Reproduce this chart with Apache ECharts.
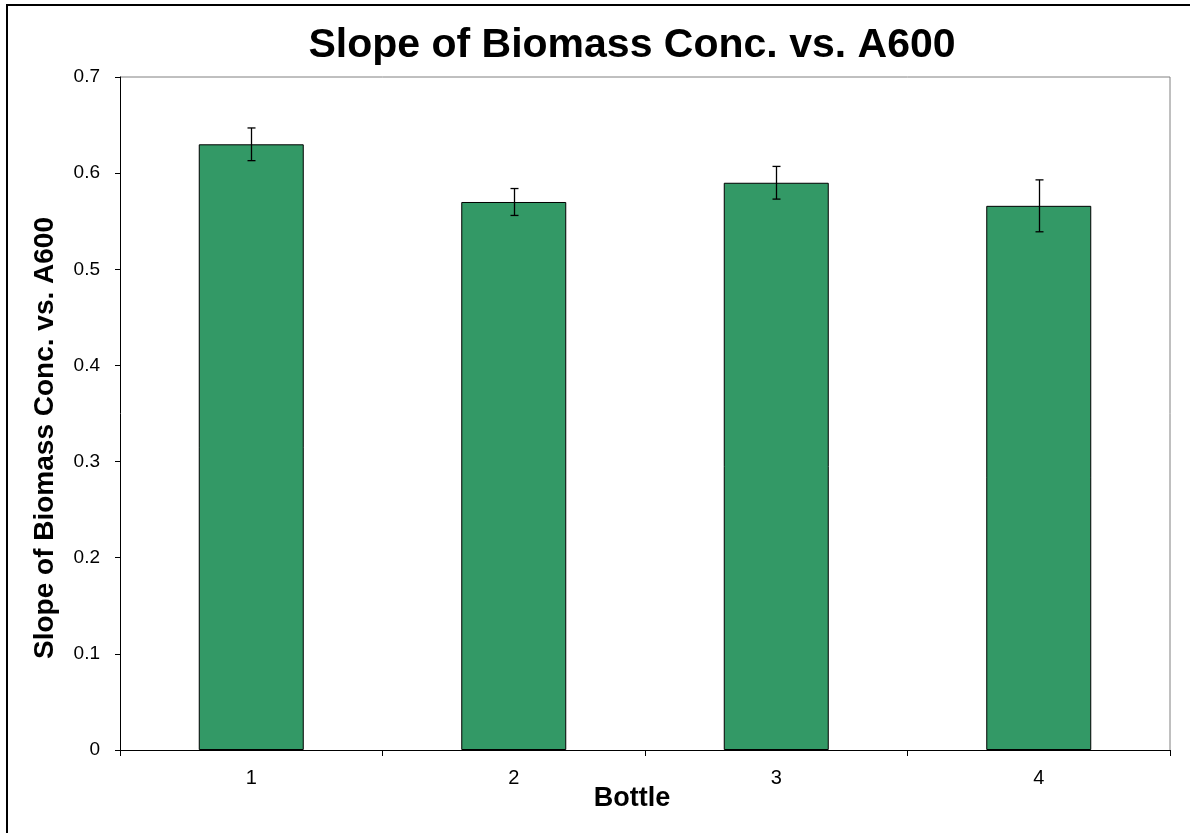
<!DOCTYPE html>
<html><head><meta charset="utf-8">
<script src="https://cdn.jsdelivr.net/npm/echarts@6/dist/echarts.min.js"></script>
<style>html,body{margin:0;padding:0;background:#fff}#c{width:1190px;height:833px}</style>
</head><body><div id="c"></div>
<script>
const categories = ['1', '2', '3', '4'];
const values = [0.630, 0.570, 0.590, 0.566];
const errors = [0.017, 0.014, 0.017, 0.027];
const yTicks = [0, 0.1, 0.2, 0.3, 0.4, 0.5, 0.6, 0.7];
const titleText = 'Slope of Biomass Conc. vs. A600';
const yName = 'Slope of Biomass Conc. vs. A600';
const xName = 'Bottle';

const chart = echarts.init(document.getElementById('c'));
const font = 'Arial, "Liberation Sans", sans-serif';
chart.setOption({
  animation: false,
  backgroundColor: '#fff',
  title: {
    text: titleText,
    left: 627, top: 20, textAlign: 'center',
    textStyle: {fontFamily: font, fontSize: 41, fontWeight: 'bold', color: '#000'}
  },
  graphic: [
    {type: 'rect', shape: {x: 7, y: 5, width: 1200, height: 840}, style: {fill: 'none', stroke: '#000', lineWidth: 2}, silent: true, z: -1},
    {type: 'polyline', shape: {points: [[120, 77], [1170, 77], [1170, 750]]}, style: {stroke: '#808080', lineWidth: 1, fill: 'none'}, silent: true, z: 0},
    {type: 'text', x: 45, y: 438, rotation: Math.PI / 2, silent: true,
     style: {text: yName, fontFamily: font, fontSize: 28, fontWeight: 'bold', fill: '#000', align: 'center', verticalAlign: 'middle'}},
    {type: 'text', x: 632, y: 799, silent: true,
     style: {text: xName, fontFamily: font, fontSize: 27, fontWeight: 'bold', fill: '#000', align: 'center', verticalAlign: 'middle'}}
  ],
  grid: {left: 120, top: 77, width: 1050, height: 673, containLabel: false},
  xAxis: {
    type: 'category', data: categories, boundaryGap: true,
    axisLine: {lineStyle: {color: '#000', width: 1}},
    axisTick: {show: true, alignWithLabel: false, length: 6, lineStyle: {color: '#000'}},
    axisLabel: {fontFamily: font, fontSize: 20, color: '#000', margin: 18},
    splitLine: {show: false}
  },
  yAxis: {
    type: 'value', min: 0, max: 0.7, interval: 0.1,
    axisLine: {show: true, lineStyle: {color: '#000', width: 1}},
    axisTick: {show: true, length: 5, inside: false, lineStyle: {color: '#000'}},
    axisLabel: {fontFamily: font, fontSize: 19, color: '#000', margin: 20,
      formatter: v => { const t = yTicks.find(k => Math.abs(k - v) < 1e-9); return t === undefined ? '' : String(t); }},
    splitLine: {show: false}
  },
  series: [
    {
      type: 'bar', data: values, barWidth: '40%',
      itemStyle: {color: '#339966', borderColor: '#000', borderWidth: 1}
    },
    {
      type: 'custom', z: 10,
      data: values.map((v, i) => [i, v - errors[i], v + errors[i]]),
      renderItem: (params, api) => {
        const lo = api.coord([api.value(0), api.value(1)]);
        const hi = api.coord([api.value(0), api.value(2)]);
        const x = Math.round(lo[0]) + 0.5, w = 4;
        const st = {stroke: '#000', lineWidth: 1.3};
        return {type: 'group', children: [
          {type: 'line', shape: {x1: x, y1: hi[1], x2: x, y2: lo[1]}, style: st},
          {type: 'line', shape: {x1: x - w, y1: hi[1], x2: x + w, y2: hi[1]}, style: st},
          {type: 'line', shape: {x1: x - w, y1: lo[1], x2: x + w, y2: lo[1]}, style: st}
        ]};
      }
    }
  ]
});
</script></body></html>
